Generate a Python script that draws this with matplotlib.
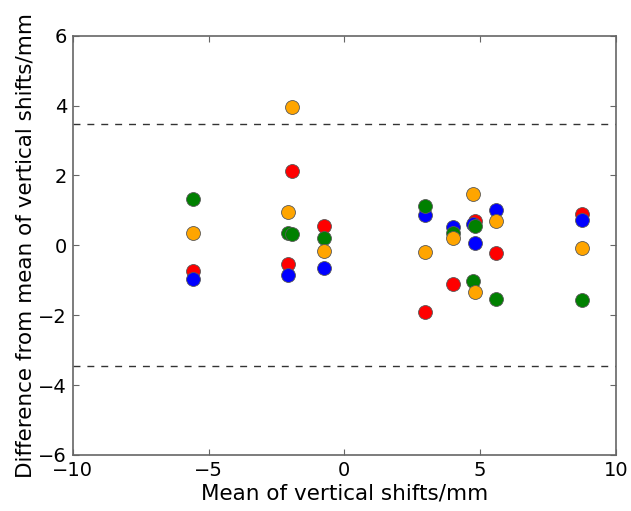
import numpy as np
import matplotlib
matplotlib.use("Agg")
import matplotlib.pyplot as plt

nan = np.nan

# mean of vertical shifts for each case (mm)
x_mean = [-5.57, -2.08, -1.93, -0.76, 2.98, 3.99, 4.75, 4.82, 5.60, 8.76]

# difference from the mean, one list per observer (nan = not visible / missing)
diff_red = [-0.74, -0.53, 2.14, 0.55, -1.91, -1.10, nan, 0.69, -0.21, 0.91]
diff_blue = [-0.97, -0.86, nan, -0.66, 0.88, 0.53, 0.60, 0.07, 1.01, 0.72]
diff_green = [1.33, 0.36, 0.33, 0.22, 1.14, 0.34, -1.02, 0.55, -1.53, -1.57]
diff_orange = [0.34, 0.96, 3.95, -0.17, -0.18, 0.20, 1.48, -1.34, 0.69, -0.07]

upper_loa = 3.48
lower_loa = -3.45

series = [
    (diff_red, "red"),
    (diff_blue, "blue"),
    (diff_green, "green"),
    (diff_orange, "orange"),
]

fig = plt.figure(figsize=(6.31, 5.11), dpi=100)
ax = fig.add_axes([0.1152, 0.1096, 0.9762 - 0.1152, 0.9301 - 0.1096])

for vals, col in series:
    ax.plot(x_mean, vals, "o", color=col, markersize=10,
            markeredgecolor="0.35", markeredgewidth=0.6, zorder=3)

ax.axhline(upper_loa, color="0.2", linestyle="--", dashes=(5, 5), lw=1)
ax.axhline(lower_loa, color="0.2", linestyle="--", dashes=(5, 5), lw=1)

ax.set_xlim(-10, 10)
ax.set_ylim(-6, 6)
ax.set_xticks([-10, -5, 0, 5, 10])
ax.set_yticks([-6, -4, -2, 0, 2, 4, 6])
ax.tick_params(direction="in", top=True, right=True, length=4,
               color="0.4", labelsize=14, pad=4)
for sp in ax.spines.values():
    sp.set_color("0.4")
    sp.set_linewidth(1.2)

ax.set_xlabel("Mean of vertical shifts/mm", fontsize=15.5, labelpad=3)
ax.set_ylabel("Difference from mean of vertical shifts/mm", fontsize=15.5,
              labelpad=2)

fig.savefig("out.png", dpi=100)
